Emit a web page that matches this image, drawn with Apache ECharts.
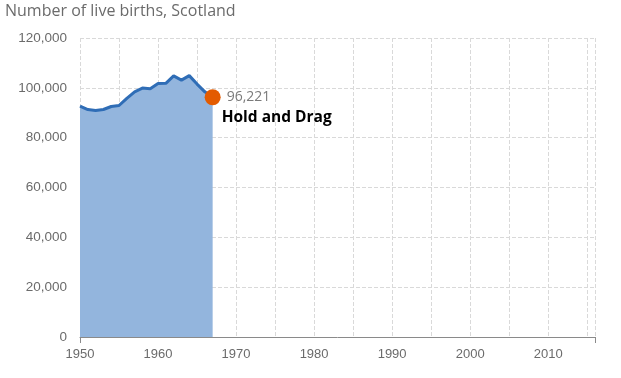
<!DOCTYPE html>
<html>
<head>
<meta charset="utf-8">
<script src="https://cdn.jsdelivr.net/npm/echarts@6/dist/echarts.min.js"></script>
<style>
  html, body { margin: 0; padding: 0; background: #fff; }
  #chart { width: 621px; height: 378px; }
</style>
</head>
<body>
<div id="chart"></div>
<script>
  // live births per year, Scotland
  var years = [1950, 1951, 1952, 1953, 1954, 1955, 1956, 1957, 1958, 1959,
               1960, 1961, 1962, 1963, 1964, 1965, 1966, 1967];
  var births = [92700, 91300, 90900, 91300, 92500, 92900, 95800, 98400, 99900, 99600,
                101700, 101800, 104800, 103100, 104900, 101500, 98400, 96221];
  var lastYear = 1967;
  var lastValue = 96221;
  var hintText = 'Hold and Drag';
  var xStart = 1950;
  var xEnd = 2016;

  var myChart = echarts.init(document.getElementById('chart'), null, {renderer: 'canvas'});

  var lineData = years.map(function (y, i) { return [y, births[i]]; });

  var option = {
    animation: false,
    title: {
      text: 'Number of live births, Scotland',
      left: 0,
      top: -2,
      textStyle: {
        fontFamily: 'Open Sans',
        fontSize: 16,
        fontWeight: 'normal',
        color: '#6b6b6b'
      }
    },
    grid: {
      left: 80,
      right: 26,
      top: 38,
      bottom: 41
    },
    xAxis: [
      {
        type: 'value',
        min: xStart,
        max: xEnd,
        interval: 5,
        axisLine: { show: true, lineStyle: { color: '#8a8a8a', width: 1 } },
        axisTick: { show: false },
        splitLine: { show: true, lineStyle: { type: 'dashed', color: '#d9d9d9' } },
        axisLabel: {
          color: '#6b6b6b',
          fontFamily: 'Liberation Sans',
          fontSize: 13,
          margin: 11,
          showMaxLabel: false,
          formatter: function (v) { return v % 10 === 0 ? String(v) : ''; }
        }
      },
      {
        // only the outer ticks at both ends
        type: 'value',
        position: 'bottom',
        min: xStart,
        max: xEnd,
        axisLine: { show: false },
        axisTick: { show: true, length: 6, customValues: [xStart, xEnd], lineStyle: { color: '#8a8a8a' } },
        splitLine: { show: false },
        axisLabel: { show: false }
      }
    ],
    yAxis: {
      type: 'value',
      min: 0,
      max: 120000,
      interval: 20000,
      axisLine: { show: false },
      axisTick: { show: false },
      splitLine: { show: true, lineStyle: { type: 'dashed', color: '#d9d9d9' } },
      axisLabel: {
        color: '#6b6b6b',
        fontFamily: 'Liberation Sans',
        fontSize: 13.5,
        margin: 13,
        formatter: function (v) { return v.toLocaleString('en-US'); }
      }
    },
    series: [
      {
        type: 'line',
        data: lineData,
        showSymbol: false,
        lineStyle: { color: '#2f6db6', width: 3 },
        areaStyle: { color: '#93b5dd', opacity: 1 },
        z: 2
      },
      {
        type: 'scatter',
        data: [[lastYear, lastValue]],
        symbolSize: 16,
        itemStyle: { color: '#e35b00', opacity: 1 },
        z: 3,
        label: {
          show: true,
          position: 'right',
          distance: 1,
          offset: [0, 10],
          formatter: function (p) {
            return '{v|' + p.value[1].toLocaleString('en-US') + '}\n{h|' + hintText + '}';
          },
          rich: {
            v: {
              fontFamily: 'Open Sans',
              fontSize: 14,
              color: '#7a7a7a',
              lineHeight: 20,
              padding: [0, 0, 0, 5]
            },
            h: {
              fontFamily: 'Open Sans',
              fontSize: 15.5,
              fontWeight: 'bold',
              color: '#000',
              lineHeight: 20
            }
          }
        }
      }
    ]
  };

  option && myChart.setOption(option);
</script>
</body>
</html>
